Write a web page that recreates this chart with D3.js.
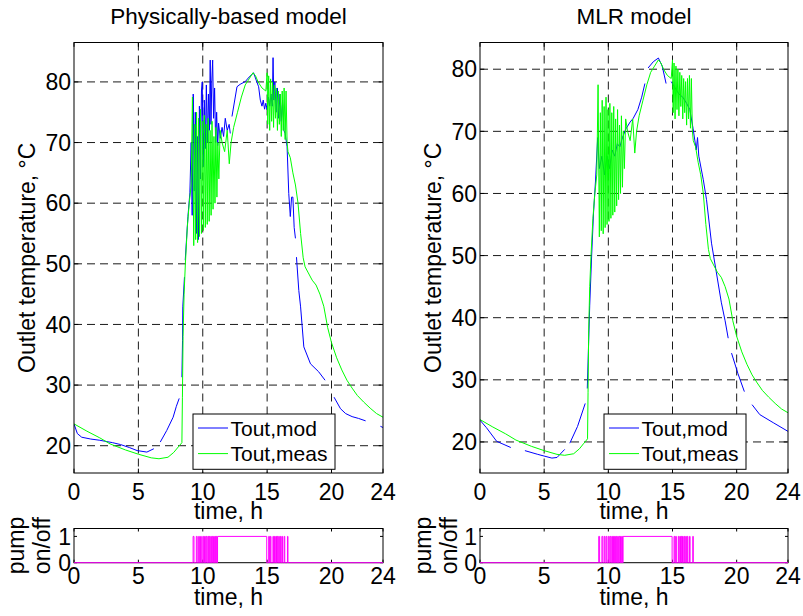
<!DOCTYPE html>
<html>
<head>
<meta charset="utf-8">
<script src="https://cdn.jsdelivr.net/npm/d3@7"></script>
<style>
body { margin: 0; background: #fff; }
text { font-family: "Liberation Sans", Arial, sans-serif; fill: #000; }
</style>
</head>
<body>
<svg id="chart" width="803" height="616"></svg>
<script>
// measured outlet temperature [time h, degC] (same in both panels)
const toutMeas = [
  [0,23.6],[1,22.4],[2,21.3],[2.8,20.3],[4,19.3],[5,18.6],[6,18.0],[6.6,17.85],[7.3,18.1],
  [7.75,18.9],[8.1,19.8],[8.38,20.5],[8.42,28],[8.47,38],[8.55,45],[8.65,50],[8.8,56],[8.95,60],
  [9.1,63],[9.2,77.5],[9.3,53],[9.38,73],[9.45,54],[9.52,75],[9.6,53.5],[9.67,74],[9.75,54.5],
  [9.82,75.5],[9.9,55],[9.97,73.5],[10.05,55.5],[10.12,74.5],[10.2,56],[10.27,73],[10.35,56.5],
  [10.42,74],[10.5,57],[10.57,72],[10.65,58],[10.72,73.5],[10.8,59],[10.87,71],[10.95,60],
  [11.02,72.5],[11.1,61],[11.17,70],[11.25,64],[11.35,72],[11.5,70],[11.7,68.5],[11.9,72],
  [12.06,66.5],[12.2,70],[12.4,72.5],[12.7,75],[13.0,77.5],[13.3,79.5],[13.6,80.5],[13.9,81.5],
  [14.1,81],[14.3,80],[14.6,79],[14.9,78.5],[15.0,81.5],[15.05,73],[15.12,81],[15.2,72],
  [15.27,80.5],[15.35,73.5],[15.42,80],[15.5,72.5],[15.57,79.5],[15.65,74],[15.72,79],[15.8,72],
  [15.87,78.5],[15.95,73],[16.02,78],[16.1,71],[16.17,78.5],[16.25,72],[16.32,79],[16.4,70.5],
  [16.47,78.5],[16.55,70],[16.62,68.5],[16.8,67.5],[17.0,65],[17.2,63],[17.4,60],[17.6,55],
  [17.8,51],[17.95,49.5],[18.2,48.5],[18.5,47.3],[18.8,46.5],[19.1,45],[19.4,43],[19.7,39.5],
  [20.0,37],[20.4,34.5],[20.8,32.5],[21.2,30.8],[21.6,29.5],[22.0,28.3],[22.5,27.2],[23.0,26.2],
  [23.5,25.3],[24,24.7]
];

// physically-based model output (null = gap)
const toutPhys = [
  [0,23.6],[0.26,22.0],[0.6,21.4],[1.3,21.1],[2.0,20.9],[3.0,20.5],[3.6,20.2],[4.3,19.7],
  [4.9,19.2],[5.66,18.95],[6.2,19.5],[6.35,null],[6.7,20.6],[7.2,22.5],[7.7,24.7],[7.95,26.5],
  [8.17,27.8],[8.27,null],[8.38,31.3],[8.43,37.4],[8.45,42.9],[8.58,47.8],[8.61,null],[8.64,50.6],
  [8.85,57.8],[9.0,61.7],[9.1,70],[9.18,58],[9.26,78],[9.34,62],[9.42,75],[9.5,55],[9.58,71],
  [9.66,54],[9.74,76],[9.82,64],[9.9,78.5],[9.96,80],[10.04,66],[10.12,77],[10.2,69],[10.28,79.5],
  [10.36,70],[10.44,78],[10.52,72],[10.58,83.6],[10.64,73],[10.7,80],[10.77,83.6],[10.84,74],
  [10.92,79],[11.0,70],[11.08,75],[11.16,69.5],[11.23,73.2],[11.36,70.7],[11.5,72.5],[11.62,71],
  [11.75,74],[11.9,72],[12.05,73],[12.14,71.5],[12.2,null],[12.27,74.3],[12.66,79.2],[12.9,79.6],
  [13.3,80.05],[13.6,80.8],[13.95,81.5],[14.15,80.3],[14.34,79.2],[14.47,77],[14.6,76],[14.7,77],
  [14.8,75.5],[14.9,76.5],[15.0,75.4],[15.1,77.5],[15.2,76],[15.3,78],[15.4,76],[15.46,84],
  [15.52,77],[15.6,80],[15.7,75],[15.8,79],[15.9,74],[16.0,78],[16.1,73.5],[16.2,77],[16.3,72],
  [16.4,71.5],[16.55,69.3],[16.68,61.6],[16.8,57.8],[16.9,61],[17.0,61],[17.1,56],[17.2,54.2],
  [17.24,null],[17.28,51.1],[17.46,45.6],[17.6,42.9],[17.85,36.3],[18.37,33.5],[19.0,32.2],
  [19.5,30.8],[19.85,null],[20.2,28.0],[20.7,26.1],[21.1,25.3],[21.6,24.8],[22.1,24.5],
  [22.65,24.1],[22.9,null],[23.8,23.2],[24,23.0]
];

// MLR model output (null = gap)
const toutMlr = [
  [0,23.5],[0.5,22.3],[1.3,20.1],[2.4,19.1],[2.9,null],[3.5,18.6],[4.5,18.0],[5.6,17.4],
  [6.0,17.5],[6.6,18.8],[6.8,null],[7.0,19.8],[7.6,22.5],[8.2,26.2],[8.3,null],[8.36,28.6],
  [8.45,35],[8.55,42],[8.7,50],[8.85,57],[9.0,62],[9.17,69],[9.3,64],[9.5,66],[9.7,63],[9.9,66],
  [10.1,64],[10.3,67],[10.5,66],[10.7,68],[10.9,67.5],[11.1,69],[11.4,70.5],[11.7,71.5],
  [11.94,72.1],[12.3,73.5],[12.6,75.5],[12.85,77.7],[12.95,null],[13.1,80.2],[13.5,81.2],
  [13.9,81.8],[14.2,80.5],[14.5,77.7],[14.7,null],[14.9,78],[15.2,77],[15.5,76],[15.8,75.5],
  [16.1,74.5],[16.35,73.5],[16.6,70.5],[16.85,67],[16.95,69],[17.05,66],[17.4,62.2],[17.65,59],
  [18.04,52],[18.4,47.5],[18.8,42.5],[19.1,39.5],[19.34,36.7],[19.45,null],[19.6,34.3],
  [20.1,31],[20.6,28.1],[20.85,null],[21.2,26.0],[21.8,24.4],[22.85,23.1],[24,21.7]
];

// pump on intervals [start h, end h]
const pumpOn = [
  [9.25,9.32],[9.5,9.57],[9.68,9.74],[9.83,9.89],[10.0,10.07],[10.14,10.2],[10.27,10.33],
  [10.4,10.46],[10.5,10.55],[10.62,10.67],[10.73,10.78],[10.84,10.9],[10.95,11.0],[11.05,11.1],
  [11.15,14.97],[15.12,15.18],[15.25,15.3],[15.45,15.5],[15.57,15.62],[15.68,15.73],
  [15.78,15.83],[15.9,15.95],[16.03,16.08],[16.15,16.2],[16.32,16.37],[16.58,16.62]
];

const xTicks = [0, 5, 10, 15, 20, 24];
const yTicks = [20, 30, 40, 50, 60, 70, 80];
const pumpTicks = [0, 1];
const seriesNames = ["Tout,mod", "Tout,meas"];

const svg = d3.select("#chart");

const panels = [
  { title: "Physically-based model", left: 74, right: 383, yDomain: [15.5, 86.5],
    model: toutPhys, legendX: 193, ylabX: 35, pumpLabX: 24 },
  { title: "MLR model", left: 480, right: 788, yDomain: [15, 84.3],
    model: toutMlr, legendX: 604, ylabX: 441, pumpLabX: 431 }
];

const mainTop = 42.5, mainBottom = 473;
const pumpTop = 528.5, pumpBottom = 562.7;

function box(g, x, y, x0, x1, y0, y1) {
  g.append("rect")
    .attr("x", x0).attr("y", y0)
    .attr("width", x1 - x0).attr("height", y1 - y0)
    .attr("fill", "none").attr("stroke", "#000").attr("stroke-width", 1);
}

panels.forEach((p, i) => {
  const g = svg.append("g");
  const x = d3.scaleLinear().domain([0, 24]).range([p.left, p.right]);
  const y = d3.scaleLinear().domain(p.yDomain).range([mainBottom, mainTop]);

  const clipId = "clip" + i;
  svg.append("clipPath").attr("id", clipId)
    .append("rect").attr("x", p.left).attr("y", mainTop)
    .attr("width", p.right - p.left).attr("height", mainBottom - mainTop);

  // grid
  g.selectAll("line.gx").data(xTicks.filter(t => t > 0 && t < 24)).enter()
    .append("line")
    .attr("x1", d => x(d)).attr("x2", d => x(d))
    .attr("y1", mainTop).attr("y2", mainBottom)
    .attr("stroke", "#000").attr("stroke-width", 0.9).attr("stroke-dasharray", "8,5");
  g.selectAll("line.gy").data(yTicks).enter()
    .append("line")
    .attr("x1", p.left).attr("x2", p.right)
    .attr("y1", d => y(d)).attr("y2", d => y(d))
    .attr("stroke", "#000").attr("stroke-width", 0.9).attr("stroke-dasharray", "8,5");

  const line = d3.line()
    .defined(d => d[1] !== null)
    .x(d => x(d[0])).y(d => y(d[1]));

  const lines = g.append("g").attr("clip-path", `url(#${clipId})`);
  lines.append("path").datum(p.model)
    .attr("d", line).attr("fill", "none").attr("stroke", "#0000ff").attr("stroke-width", 1);
  lines.append("path").datum(toutMeas)
    .attr("d", line).attr("fill", "none").attr("stroke", "#00ff00").attr("stroke-width", 1);

  // ticks (inward, all four sides)
  const tl = 4.3;
  xTicks.forEach(t => {
    g.append("line").attr("x1", x(t)).attr("x2", x(t)).attr("y1", mainBottom).attr("y2", mainBottom - tl).attr("stroke", "#000");
    g.append("line").attr("x1", x(t)).attr("x2", x(t)).attr("y1", mainTop).attr("y2", mainTop + tl).attr("stroke", "#000");
  });
  yTicks.forEach(t => {
    g.append("line").attr("x1", p.left).attr("x2", p.left + tl).attr("y1", y(t)).attr("y2", y(t)).attr("stroke", "#000");
    g.append("line").attr("x1", p.right).attr("x2", p.right - tl).attr("y1", y(t)).attr("y2", y(t)).attr("stroke", "#000");
  });
  box(g, x, y, p.left, p.right, mainTop, mainBottom);

  g.selectAll("text.xt").data(xTicks).enter().append("text")
    .attr("x", d => x(d)).attr("y", 500)
    .attr("text-anchor", "middle").attr("font-size", 23).text(d => d);
  g.selectAll("text.yt").data(yTicks).enter().append("text")
    .attr("x", p.left - 3).attr("y", d => y(d)).attr("dy", "0.36em")
    .attr("text-anchor", "end").attr("font-size", 23).text(d => d);

  g.append("text").attr("x", (p.left + p.right) / 2).attr("y", 519)
    .attr("text-anchor", "middle").attr("font-size", 23).text("time, h");
  g.append("text")
    .attr("transform", `translate(${p.ylabX},${(mainTop + mainBottom) / 2}) rotate(-90)`)
    .attr("text-anchor", "middle").attr("font-size", 23).text("Outlet temperature, \u00B0C");
  g.append("text").attr("x", (p.left + p.right) / 2).attr("y", 24)
    .attr("text-anchor", "middle").attr("font-size", 22.5).text(p.title);

  // legend
  const lg = g.append("g").attr("transform", `translate(${p.legendX},414)`);
  lg.append("rect").attr("width", 142).attr("height", 55.3)
    .attr("fill", "#fff").attr("stroke", "#000").attr("stroke-width", 1);
  [["#0000ff", seriesNames[0]], ["#00ff00", seriesNames[1]]].forEach((e, k) => {
    const yy = 14 + k * 25.6;
    lg.append("line").attr("x1", 5).attr("x2", 35).attr("y1", yy).attr("y2", yy)
      .attr("stroke", e[0]).attr("stroke-width", 1);
    lg.append("text").attr("x", 37.5).attr("y", yy).attr("dy", "0.36em")
      .attr("font-size", 21).text(e[1]);
  });

  // pump subplot
  const yp = d3.scaleLinear().domain([0, 1.3]).range([pumpBottom, pumpTop]);
  const pumpSteps = [[0, 0]];
  pumpOn.forEach(([s, e]) => { pumpSteps.push([s, 0], [s, 1], [e, 1], [e, 0]); });
  pumpSteps.push([24, 0]);

  const pg = svg.append("g");
  pumpTicks.forEach(t => {
    pg.append("line").attr("x1", p.left).attr("x2", p.left + 3).attr("y1", yp(t)).attr("y2", yp(t)).attr("stroke", "#000");
    pg.append("line").attr("x1", p.right).attr("x2", p.right - 3).attr("y1", yp(t)).attr("y2", yp(t)).attr("stroke", "#000");
  });
  xTicks.forEach(t => {
    pg.append("line").attr("x1", x(t)).attr("x2", x(t)).attr("y1", pumpBottom).attr("y2", pumpBottom - 3).attr("stroke", "#000");
    pg.append("line").attr("x1", x(t)).attr("x2", x(t)).attr("y1", pumpTop).attr("y2", pumpTop + 3).attr("stroke", "#000");
  });
  box(pg, x, yp, p.left, p.right, pumpTop, pumpBottom);
  pg.append("path").datum(pumpSteps)
    .attr("d", d3.line().x(d => x(d[0])).y(d => yp(d[1])))
    .attr("fill", "none").attr("stroke", "#ff00ff").attr("stroke-width", 1);

  pg.selectAll("text.pt").data(pumpTicks).enter().append("text")
    .attr("x", p.left - 3).attr("y", d => yp(d)).attr("dy", "0.36em")
    .attr("text-anchor", "end").attr("font-size", 23).text(d => d);
  pg.selectAll("text.px").data(xTicks).enter().append("text")
    .attr("x", d => x(d)).attr("y", 583.5)
    .attr("text-anchor", "middle").attr("font-size", 23).text(d => d);
  pg.append("text").attr("x", (p.left + p.right) / 2).attr("y", 605)
    .attr("text-anchor", "middle").attr("font-size", 23).text("time, h");
  const pl = pg.append("text")
    .attr("transform", `translate(${p.pumpLabX},${(pumpTop + pumpBottom) / 2}) rotate(-90)`)
    .attr("text-anchor", "middle").attr("font-size", 23);
  pl.append("tspan").attr("x", 0).attr("dy", 0).text("pump");
  pl.append("tspan").attr("x", 0).attr("dy", 26).text("on/off");
});
</script>
</body>
</html>
